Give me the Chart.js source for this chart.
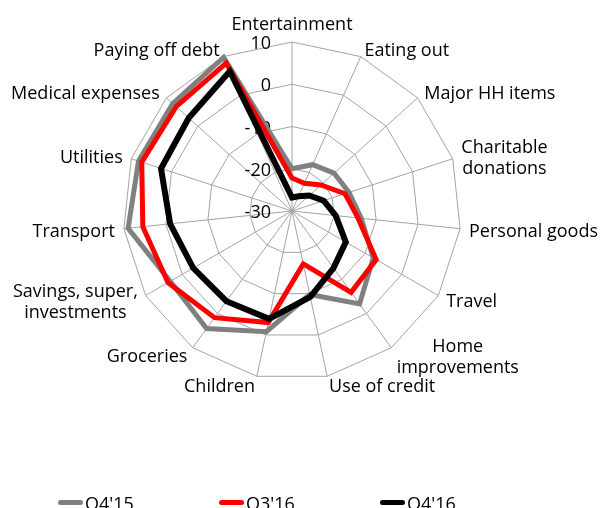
<!DOCTYPE html>
<html>
<head>
<meta charset="utf-8">
<script src="https://cdn.jsdelivr.net/npm/chart.js@4/dist/chart.umd.min.js"></script>
<style>
  html, body { margin: 0; padding: 0; background: #fff; overflow: hidden; }
  #wrap { position: relative; width: 603px; height: 508px; }
  #legend { position: absolute; left: 58px; top: 492px; display: flex;
            font: 18px "Open Sans", sans-serif; color: #000; }
  .item { width: 161px; display: flex; align-items: center; height: 21px; }
  .swatch { width: 25px; height: 5px; border-radius: 3px; margin-right: 2px; }
</style>
</head>
<body>
<div id="wrap">
  <canvas id="c" width="603" height="508"></canvas>
  <div id="legend"></div>
</div>
<script>
// Spending intentions by category, net balance
const categories = [
  'Entertainment', 'Eating out', 'Major HH items', ['Charitable', 'donations'],
  'Personal goods', 'Travel', ['Home', 'improvements'], 'Use of credit',
  'Children', 'Groceries', ['Savings, super,', 'investments'], 'Transport',
  'Utilities', 'Medical expenses', 'Paying off debt'
];
const seriesNames = ["Q4'15", "Q3'16", "Q4'16"];
const q4_15 = [-20, -18, -16.6, -15.8, -13.5, -7.8, -2.8, -9.8, -0.8, 4.4, 3.3, 9.0, 8.2, 8.0, 9.8];
const q3_16 = [-22.2, -22.8, -20.8, -16.8, -14.3, -7.0, -6.2, -17.2, -3.0, 1.2, 3.9, 5.5, 7.4, 6.9, 8.3];
const q4_16 = [-26.8, -26.2, -24.5, -22.1, -19.6, -15.3, -13.3, -9.2, -3.9, -3.6, -3.0, -1.0, 2.6, 2.9, 6.2];
const scaleMin = -30, scaleMax = 10, scaleStep = 10;

const FONT = '"Open Sans", sans-serif';
const FONT_SIZE = 18;
const LINE_H = 21;
const TEXT_NUDGE = 2; // Open Sans sits a little high with a middle baseline

// Draws the value ticks beside the vertical axis and the category names round the web
const radarText = {
  id: 'radarText',
  beforeDatasetsDraw(chart) {
    const s = chart.scales.r;
    const ctx = chart.ctx;
    ctx.save();
    ctx.font = FONT_SIZE + 'px ' + FONT;
    ctx.fillStyle = '#000';

    ctx.textAlign = 'right';
    ctx.textBaseline = 'middle';
    s.ticks.forEach(t => {
      const d = s.getDistanceFromCenterForValue(t.value);
      ctx.fillText(t.label != null ? t.label : String(t.value), s.xCenter - 21, s.yCenter - d + TEXT_NUDGE);
    });

    const n = chart.data.labels.length;
    chart.data.labels.forEach((lab, i) => {
      const lines = Array.isArray(lab) ? lab : [lab];
      const p = s.getPointPosition(i, s.drawingArea + 9);
      const ang = i * 360 / n;
      const w = Math.max(...lines.map(l => ctx.measureText(l).width));
      const h = lines.length * LINE_H;
      let cx, cy;
      if (ang === 0) { cx = p.x; cy = p.y - h / 2; }
      else if (ang === 180) { cx = p.x; cy = p.y + h / 2; }
      else if (ang < 180) { cx = p.x + w / 2; cy = p.y; }
      else { cx = p.x - w / 2; cy = p.y; }
      ctx.textAlign = 'center';
      lines.forEach((l, k) => {
        ctx.fillText(l, cx, cy - h / 2 + LINE_H * (k + 0.5) + TEXT_NUDGE);
      });
    });
    ctx.restore();
  }
};

const colors = ['#808080', '#ff0000', '#000000'];
const widths = [5, 5, 6];
const values = [q4_15, q3_16, q4_16];

const chart = new Chart(document.getElementById('c'), {
  type: 'radar',
  data: {
    labels: categories,
    datasets: seriesNames.map((name, i) => ({
      label: name,
      data: values[i],
      borderColor: colors[i],
      backgroundColor: colors[i],
      borderWidth: widths[i],
      borderJoinStyle: 'miter',
      borderCapStyle: 'round',
      pointRadius: 0,
      pointHoverRadius: 0,
      fill: false,
      tension: 0,
      order: 3 - i
    }))
  },
  options: {
    responsive: false,
    animation: false,
    layout: { padding: { top: 42, bottom: 128, left: 0, right: 19 } },
    plugins: { legend: { display: false }, tooltip: { enabled: false } },
    scales: {
      r: {
        min: scaleMin,
        max: scaleMax,
        ticks: { stepSize: scaleStep, display: false },
        grid: { color: '#a3a3a3', lineWidth: 1, circular: false },
        angleLines: { color: '#a3a3a3', lineWidth: 1 },
        pointLabels: { display: false }
      }
    }
  },
  plugins: [radarText]
});

// Legend built from the chart's own datasets
const legend = document.getElementById('legend');
chart.data.datasets.forEach(ds => {
  const item = document.createElement('div');
  item.className = 'item';
  const sw = document.createElement('span');
  sw.className = 'swatch';
  sw.style.background = ds.borderColor;
  const tx = document.createElement('span');
  tx.textContent = ds.label;
  item.appendChild(sw);
  item.appendChild(tx);
  legend.appendChild(item);
});
</script>
</body>
</html>
